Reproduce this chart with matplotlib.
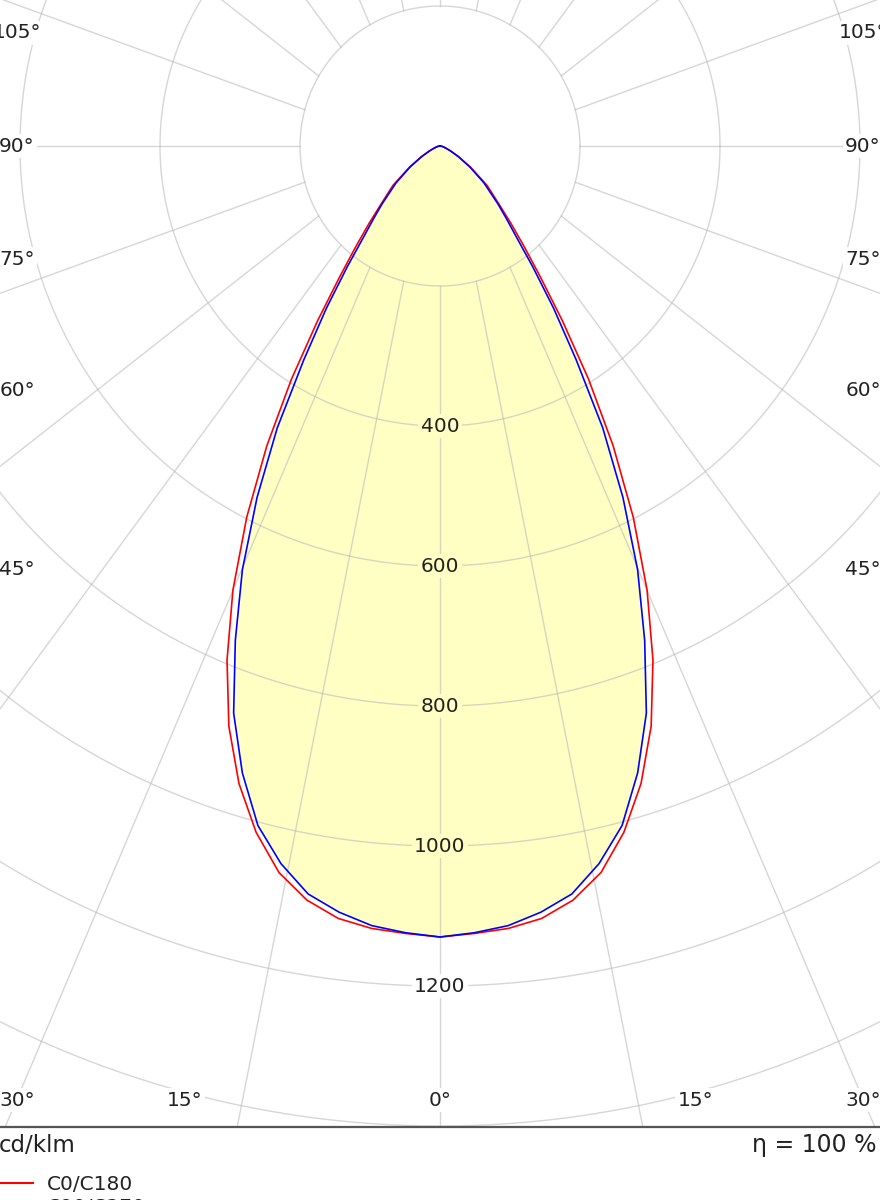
import numpy as np
import matplotlib.pyplot as plt
from matplotlib.lines import Line2D

# light distribution: gamma (deg from nadir) -> cd/klm
gamma = [0, 2.5, 5, 7.5, 10, 12.5, 15, 17.5, 20, 22.5, 25, 27.5, 30, 32.5,
         35, 37.5, 40, 42.5, 45, 50, 55, 60, 65, 70, 75, 80, 85, 90]
c0_c180 = [1130, 1126, 1122, 1113, 1094, 1063, 1015, 955, 882, 795, 700, 598,
           495, 395, 305, 235, 186, 150, 122, 88, 54, 31, 17, 9, 5, 3, 1, 0]
c90_c270 = [1130, 1125, 1118, 1104, 1085, 1050, 1005, 939, 862, 764, 668, 566,
            465, 362, 283, 218, 170, 140, 117, 82, 52, 30, 16, 9, 5, 3, 1, 0]

ring_values = [200, 400, 600, 800, 1000, 1200, 1400]
ring_labels = [400, 600, 800, 1000, 1200]
angle_ticks = [0, 15, 30, 45, 60, 75, 90, 105]
ray_angles = list(range(0, 360, 15))

W, H = 880, 1200
PX = 0.7               # pixels per cd/klm
CX, CY = 440, 146      # pole position in pixels
PLOT_BOTTOM = 1127
RAY_SQUEEZE = 0.735    # the source drawing's spokes lean inwards

GRID = '#bbbbbb'
FILL = '#ffffc4'
TEXT = '#222222'

plt.rcParams['font.family'] = ['DejaVu Sans']

fig = plt.figure(figsize=(W / 100, H / 100), dpi=100)
ax = fig.add_axes([0, 1 - PLOT_BOTTOM / H, 1, PLOT_BOTTOM / H])
xmax = CX / PX
ymax = CY / PX
ymin = -(PLOT_BOTTOM - CY) / PX
ax.set_xlim(-xmax, xmax)
ax.set_ylim(ymin, ymax)
ax.set_xticks([])
ax.set_yticks([])
for side in ('top', 'left', 'right'):
    ax.spines[side].set_visible(False)
ax.spines['bottom'].set_color('#555555')
ax.spines['bottom'].set_linewidth(1.6)


def curve_xy(vals):
    g = np.radians(np.array(gamma))
    v = np.array(vals, dtype=float)
    gg = np.concatenate([-g[::-1], g[1:]])
    vv = np.concatenate([v[::-1], v[1:]])
    return vv * np.sin(gg), -vv * np.cos(gg)


# filled area of the C90/C270 curve
bx, by = curve_xy(c90_c270)
ax.fill(bx, by, color=FILL, zorder=1, lw=0)

# rings
t = np.linspace(0, 2 * np.pi, 721)
for r in ring_values:
    ax.plot(r * np.cos(t), r * np.sin(t), color=GRID, lw=1.0, alpha=0.6, zorder=2)

# spokes starting at the innermost ring
r0 = ring_values[0]
for a in ray_angles:
    th = np.radians(a)
    sx, sy = r0 * np.sin(th), -r0 * np.cos(th)
    dx, dy = RAY_SQUEEZE * np.sin(th), -np.cos(th)
    n = np.hypot(dx, dy)
    ax.plot([sx, sx + 4000 * dx / n], [sy, sy + 4000 * dy / n],
            color=GRID, lw=1.0, alpha=0.6, zorder=2)

# curves
rx, ry = curve_xy(c0_c180)
ax.plot(rx, ry, color='#ff0000', lw=1.2, zorder=3)
ax.plot(bx, by, color='#0000ff', lw=1.2, zorder=3)

# ring labels along nadir
for r in ring_labels:
    bg = FILL if r < c90_c270[0] else 'white'
    ax.text(0, -r, str(r), ha='center', va='center', fontsize=14.5, color=TEXT,
            zorder=4, bbox=dict(boxstyle='square,pad=0.12', fc=bg, ec='none'))

# angle labels around the frame
side_x = xmax - 17 / PX
bottom_y = ymin + 27 / PX
for a in angle_ticks:
    for sgn in ((1,) if a == 0 else (-1, 1)):
        if a <= 30:
            x = sgn * min(abs(bottom_y) * np.tan(np.radians(a)), side_x)
            y = bottom_y
        else:
            x = sgn * side_x
            y = -side_x / np.tan(np.radians(a))
        ax.text(x, y, f'{a}°', ha='center', va='center', fontsize=14.5,
                color=TEXT, zorder=4, clip_on=False,
                bbox=dict(boxstyle='square,pad=0.12', fc='white', ec='none'))


def fx(px):
    return px / W


def fy(py):
    return 1 - py / H


fig.text(fx(-1), fy(1152), 'cd/klm', ha='left', va='baseline', fontsize=16.5, color=TEXT)
fig.text(fx(752), fy(1152), 'η = 100 %', ha='left', va='baseline', fontsize=17, color=TEXT)

# legend
legend_items = [('C0/C180', '#ff0000'), ('C90/C270', '#0000ff')]
for i, (lab, col) in enumerate(legend_items):
    ly = 1183 + i * 23
    fig.add_artist(Line2D([fx(-5), fx(33)], [fy(ly), fy(ly)], color=col, lw=1.5))
    fig.text(fx(47), fy(ly + 7), lab, ha='left', va='baseline', fontsize=14.5, color=TEXT)

fig.savefig('out.png', dpi=100, facecolor='white')
